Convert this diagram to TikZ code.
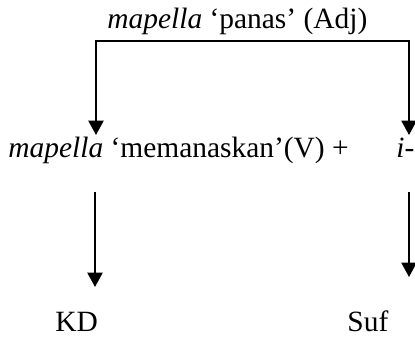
\documentclass[tikz,border=0pt]{standalone}
\usepackage{fontspec}
\setmainfont{Liberation Serif}
\usetikzlibrary{arrows.meta}

\begin{document}
\begin{tikzpicture}[x=0.418pt, y=-0.418pt,
	every node/.style={font=\fontsize{12.3}{14}\selectfont, inner sep=0pt, anchor=base west},
	arr/.style={-{Triangle[length=6pt,width=6.3pt]}, line width=0.85pt}]
	\useasboundingbox (0,0) rectangle (415,337);
	
	% word forms
	\node (adj) at (107,28) {\textit{mapella} ‘panas’ (Adj)};
	\node (verb) at (8,157) {\textit{mapella} ‘memanaskan’(V) +};
	\node (suf) at (396,157) {\textit{i}-};
	\node (kd) at (55,331) {KD};
	\node (sf) at (347,331) {Suf};
	
	% bracket under the adjective
	\coordinate (brL) at (96,41);
	\coordinate (brR) at (409,41);
	\coordinate (tipL) at (96,135);
	\coordinate (tipR) at (409,135);
	\draw[arr] (brR) -- (brL) -- (tipL);
	\draw[arr, line cap=rect] (brR) -- (tipR);
	
	% down to the categories
	\coordinate (kdTop) at (95,192);
	\coordinate (kdTip) at (95,287);
	\coordinate (sfTop) at (409,192);
	\coordinate (sfTip) at (409,277);
	\draw[arr] (kdTop) -- (kdTip);
	\draw[arr] (sfTop) -- (sfTip);
	
\end{tikzpicture}
\end{document}
